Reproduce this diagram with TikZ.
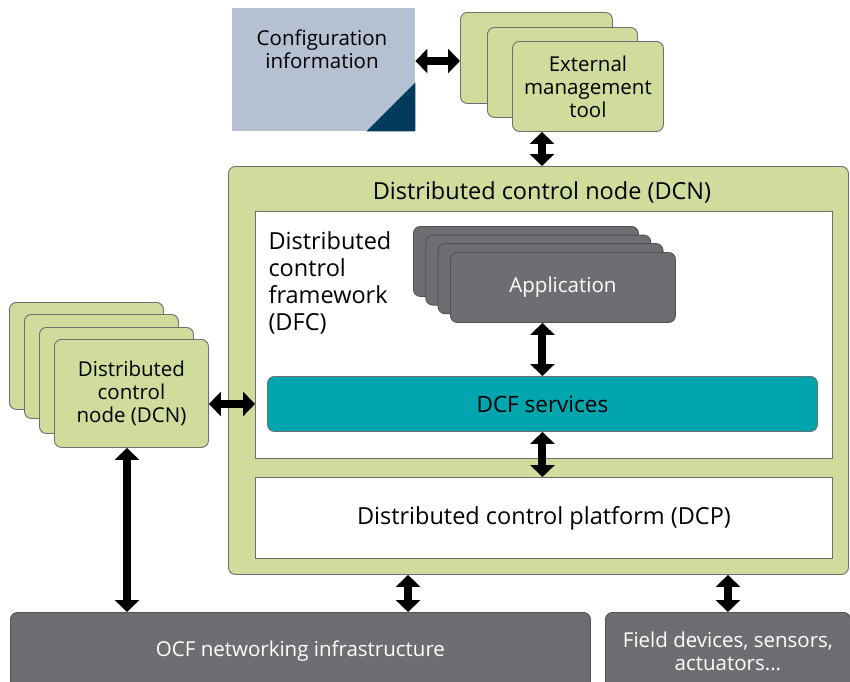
\documentclass[tikz,border=0pt]{standalone}
\usepackage{fontspec}
\setmainfont{Open Sans}
\usetikzlibrary{arrows.meta,positioning,calc}
\definecolor{dcngreen}{HTML}{CFDC9C}
\definecolor{edgegrey}{HTML}{6D6E71}
\definecolor{appgrey}{HTML}{6D6E71}
\definecolor{appedge}{HTML}{505155}
\definecolor{dcfteal}{HTML}{00A5AE}
\definecolor{cfgblue}{HTML}{B5C0D3}
\definecolor{cfgnavy}{HTML}{003B5C}
\newcommand{\bigtxt}{\fontsize{23.5}{27}\selectfont}
\tikzset{
  box/.style    ={draw=edgegrey, line width=0.9pt, rounded corners=7pt, align=center,
                  inner sep=0pt, anchor=north west},
  grn/.style    ={box, fill=dcngreen},
  drk/.style    ={box, fill=appgrey, draw=appedge, text=white},
  plain/.style  ={draw=edgegrey, line width=0.9pt, fill=white, anchor=north west, inner sep=0pt},
  biarr/.style  ={{Triangle[length=12pt,width=24pt]}-{Triangle[length=12pt,width=24pt]},
                  line width=8pt},
}

\begin{document}
\begin{tikzpicture}[x=1pt,y=-1pt,font=\fontsize{20.5}{23}\selectfont]
\useasboundingbox (0,0) rectangle (850,681);
\clip (0,0) rectangle (850,681);

% configuration sheet with folded corner
\node[fill=cfgblue, minimum width=183, minimum height=123, anchor=north west, inner sep=0pt]
  (cfg) at (232,8) {};
\fill[cfgnavy] (cfg.south east) -- ++(-49,0) -- ++(49,-49) -- cycle;
\node[align=center] (cfgtext) at (322,49) {Configuration\\information};

% external management tool (stacked)
\node[grn, minimum width=152, minimum height=91] (ext1) at (460,12) {};
\node[grn, minimum width=150, minimum height=90] (ext2) at (487,27) {};
\node[grn, minimum width=151, minimum height=90] (ext) at (512,41)
  {External\\management\\tool};

% distributed control node
\node[grn, minimum width=620, minimum height=408] (dcn) at (228,166) {};
\node[font=\bigtxt] (dcntitle) at (542,192) {Distributed control node (DCN)};
\node[plain, minimum width=577, minimum height=247] (dfc) at (255,211) {};
\node[anchor=north west, align=left, font=\bigtxt]
  (dfclabel) at (265,228) {Distributed\\control\\framework\\(DFC)};

% application instances
\foreach \i in {0,1,2}
  \node[drk, minimum width=225, minimum height=70] (app\i) at (413+12.3*\i,226+8.6*\i) {};
\node[drk, minimum width=225, minimum height=70] (app) at (450,252) {Application};

\node[box, fill=dcfteal, minimum width=550, minimum height=55, font=\fontsize{22.5}{27}\selectfont]
  (dcf) at (267,376) {DCF services};
\node[plain, minimum width=577, minimum height=81, font=\bigtxt] (dcp) at (255,477)
  {Distributed control platform (DCP)};

% neighbouring nodes
\node[grn, minimum width=154, minimum height=107] (lcn1) at (9,302) {};
\node[grn, minimum width=154, minimum height=104] (lcn2) at (24,314) {};
\node[grn, minimum width=154, minimum height=106] (lcn3) at (39,327) {};
\node[grn, minimum width=154, minimum height=108] (lcn) at (54,339)
  {Distributed\\control\\node (DCN)};

% bottom layer
\node[drk, minimum width=580, minimum height=78] (ocf) at (10,612)
  {OCF networking infrastructure};
\node[drk, minimum width=245, minimum height=78] (field) at (605,612)
  {Field devices, sensors,\\actuators...};

% links
\draw[biarr] (cfg.east |- 0,61) -- (ext1.west |- 0,61);
\draw[biarr] (ext.south -| dcntitle.north) -- (dcn.north -| dcntitle.north);
\draw[biarr] (app.south -| dcf.north) -- (dcf.north);
\draw[biarr] (dcf.south) -- (dcf.south |- dcp.north);
\draw[biarr] (lcn.east |- dcf.west) -- (dfc.west |- dcf.west);
\draw[biarr] (lcn.south -| 127,0) -- (ocf.north -| 127,0);
\coordinate (dcnlow) at ($(dcn.south west)!0.29!(dcn.south east)$);
\draw[biarr] (dcnlow) -- (dcnlow |- ocf.north);
\draw[biarr] (field.north |- dcn.south) -- (field.north);
\end{tikzpicture}
\end{document}
